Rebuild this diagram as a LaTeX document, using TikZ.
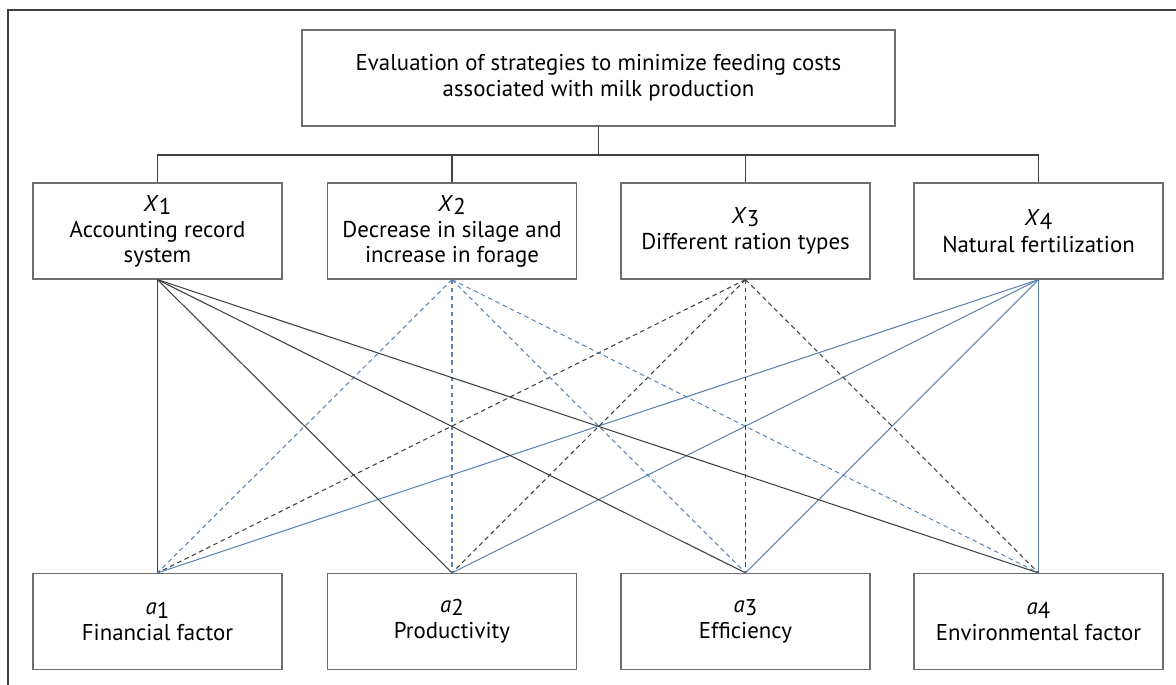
\documentclass[tikz,border=0pt]{standalone}
\usepackage{fontspec}
\setmainfont{PT Sans}
\usepackage{xcolor}
\usepackage{tikz}
\usetikzlibrary{positioning}

\definecolor{lnGray}{HTML}{404040}
\definecolor{lnBlue}{HTML}{5B84B1}
\definecolor{boxGray}{HTML}{6E6E6E}

\newcommand{\strat}[2]{\textit{#1}\raisebox{-0.3ex}{#2}}

\begin{document}
\begin{tikzpicture}[
  x=0.02cm, y=-0.02cm,
  font=\fontsize{13}{14}\selectfont,
  every node/.style={align=center, inner sep=2pt},
  box/.style={draw=boxGray, line width=0.7pt, minimum width=4.98cm, minimum height=1.92cm},
  goal/.style={box, minimum width=11.86cm},
  wire/.style={draw=lnGray, line width=0.6pt},
  solidG/.style={lnGray, line width=0.6pt},
  solidB/.style={lnBlue, line width=0.6pt},
  dashG/.style={lnGray, line width=0.6pt, dash pattern=on 2.6pt off 2pt},
  dashB/.style={lnBlue, line width=0.6pt, dash pattern=on 2.6pt off 2pt}
]
\useasboundingbox (0,0) rectangle (1176,685);

% --- outer frame (only top and left edges are inside the picture) ---
\draw[lnGray, line width=0.8pt] (1176,10) -- (8,10) -- (8,685);

% --- goal ---
\node[goal] (goal) at (598.5,78)
  {Evaluation of strategies to minimize feeding costs\\[1pt]associated with milk production};

% --- strategies X1..X4 ---
\node[box] (x1) at ( 157.5,231) {\strat{X}{1}\\[1pt]Accounting record\\system};
\node[box] (x2) at ( 452,231) {\strat{X}{2}\\[1pt]Decrease in silage and\\increase in forage};
\node[box] (x3) at ( 745.5,231) {\strat{X}{3}\\[1pt]Different ration types};
\node[box] (x4) at (1038.5,231) {\strat{X}{4}\\[1pt]Natural fertilization};

% --- criteria a1..a4 ---
\node[box] (a1) at ( 157.5,621.5) {\strat{a}{1}\\[1pt]Financial factor};
\node[box] (a2) at ( 452,621.5) {\strat{a}{2}\\[1pt]Productivity};
\node[box] (a3) at ( 745.5,621.5) {\strat{a}{3}\\[1pt]Efficiency};
\node[box] (a4) at (1038.5,621.5) {\strat{a}{4}\\[1pt]Environmental factor};

% --- tree from goal to strategies ---
\coordinate (bus) at (goal.south |- 0,155);
\draw[wire] (goal.south) -- (bus);
\draw[wire] (x1.north) |- (bus) -| (x4.north);
\draw[wire] (x2.north) -- (x2.north |- bus);
\draw[wire] (x3.north) -- (x3.north |- bus);

% --- every strategy to every criterion ---
\foreach \a in {1,...,4} {
  \draw[solidG] (x1.south) -- (a\a.north);
  \draw[dashB]  (x2.south) -- (a\a.north);
  \draw[dashG]  (x3.south) -- (a\a.north);
  \draw[solidB] (x4.south) -- (a\a.north);
}

\end{tikzpicture}
\end{document}
